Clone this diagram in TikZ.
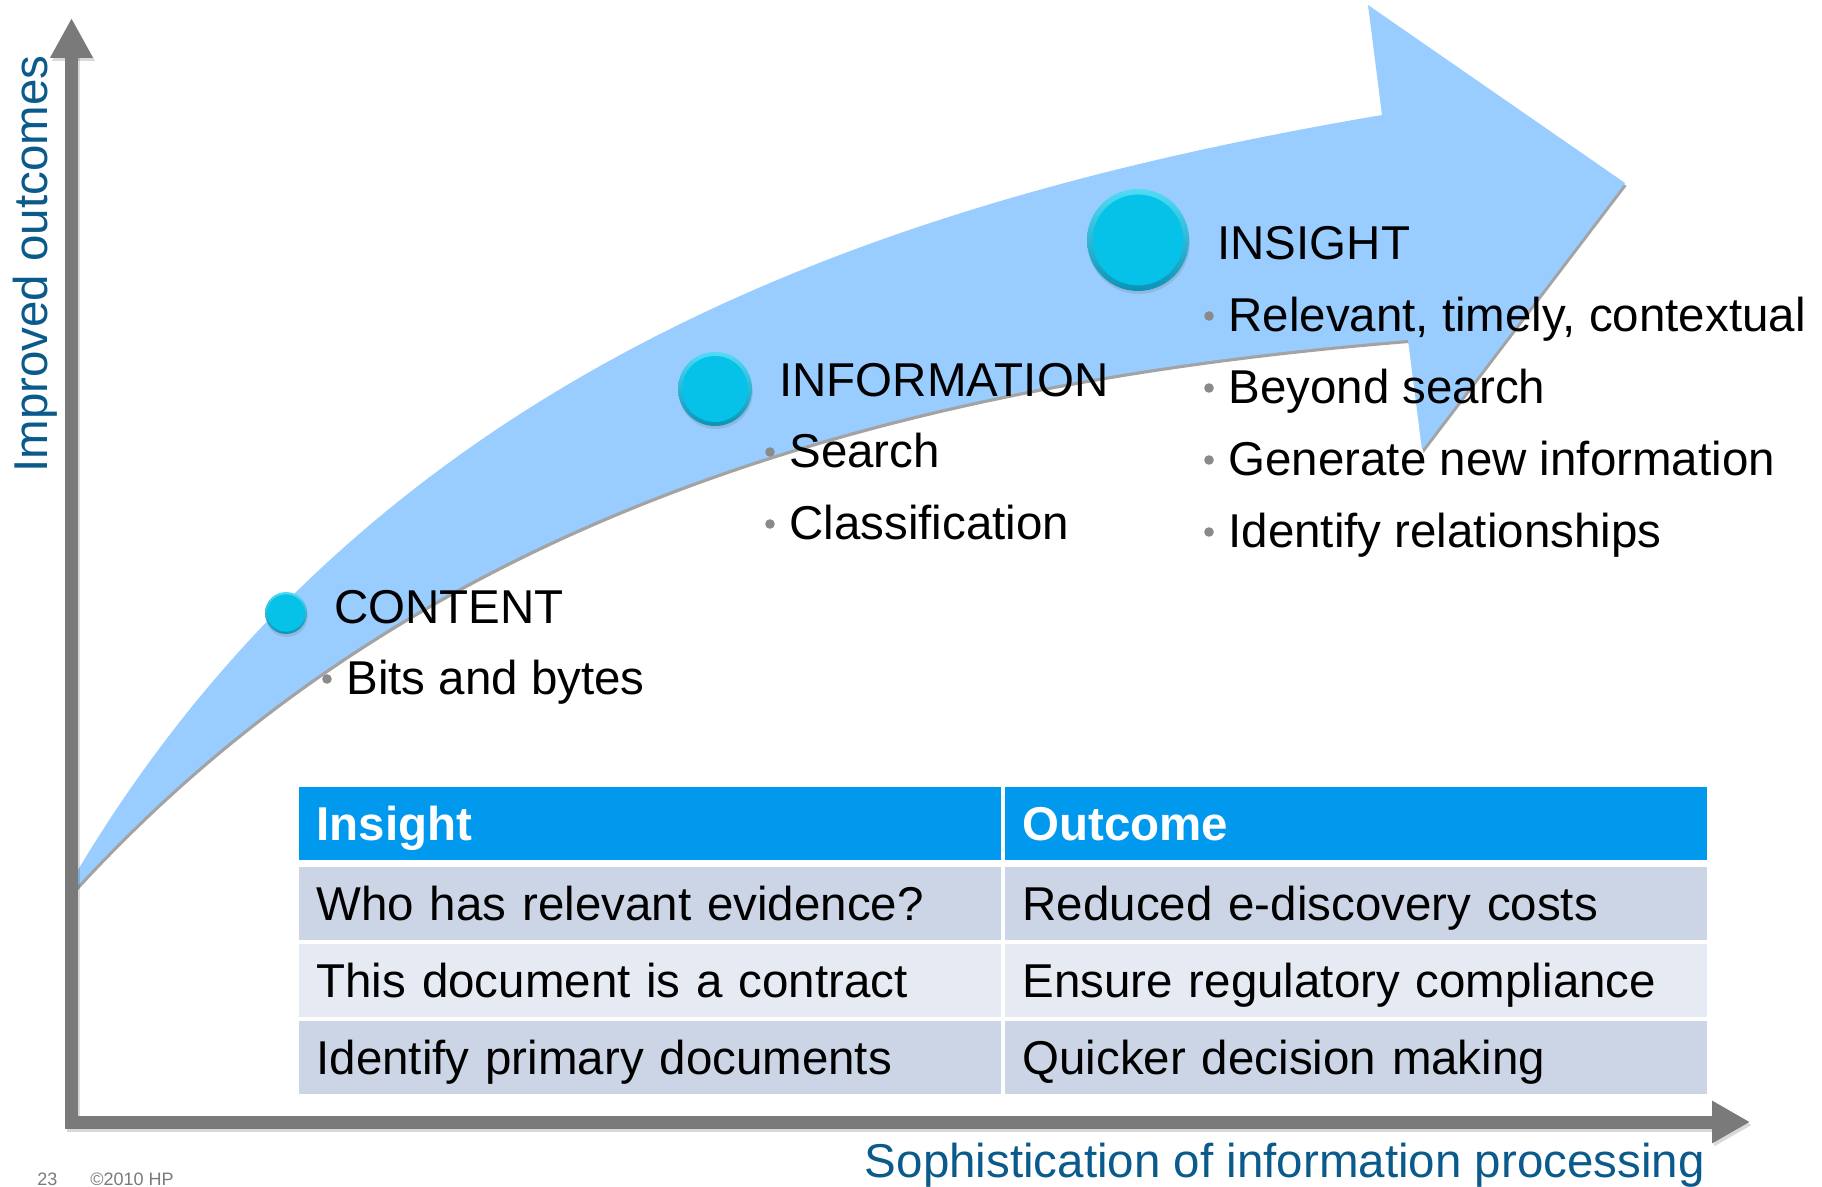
\documentclass[tikz,border=0pt]{standalone}
\usepackage{fontspec}
\setmainfont{Liberation Sans}
\usetikzlibrary{calc,arrows.meta,shadows}

\definecolor{gris}{HTML}{7A7A7A}
\definecolor{bleuciel}{HTML}{99CCFF}
\definecolor{ombre}{HTML}{A3A3A3}
\definecolor{bleutitre}{HTML}{0A5A8C}
\definecolor{bleuentete}{HTML}{0099EE}
\definecolor{lignefonce}{HTML}{CCD5E6}
\definecolor{ligneclair}{HTML}{E6EBF3}
\definecolor{puce}{HTML}{8A8A8A}
\definecolor{cyanmilieu}{HTML}{06C1E8}
\definecolor{cyanhaut}{HTML}{4FDCF6}
\definecolor{cyanbas}{HTML}{0B93B6}

\newcommand\grand{\fontsize{23.75pt}{28pt}\selectfont}

\begin{document}
\begin{tikzpicture}[
    x=0.5pt, y=-0.5pt, % une unité = un pixel, y vers le bas
    axe/.style={draw=gris, line width=6.5pt, line join=miter,
        {Triangle[length=20pt,width=20pt]}-{Triangle[length=19pt,width=20pt]}},
    bulle/.style={circle, inner sep=0pt, top color=cyanhaut, bottom color=cyanbas,
        drop shadow={shadow xshift=0.4pt, shadow yshift=-1.5pt, opacity=.25},
        path picture={\fill[cyanmilieu] let \p1=($(path picture bounding box.north east)-(path picture bounding box.center)$)
            in (path picture bounding box.center) circle[radius=0.89*\x1];}},
    titre/.style={anchor=base west, inner sep=0pt, font=\grand},
    texte/.style={anchor=base west, inner sep=0pt, font=\grand},
    cellule/.style={minimum height=36.5pt, text width=333pt, inner xsep=9pt, inner ysep=0pt,
        align=left, text height=17pt, text depth=0pt, font=\grand}
]
\useasboundingbox (0,0) rectangle (1822,1187);

% Flèche courbe (ombre puis flèche)
\foreach \couleur/\dx/\dy in {ombre/1.5/3, bleuciel/0/0}
    \fill[\couleur, shift={(\dx,\dy)}]
        (72,880) .. controls (372,370) and (882,200) .. (1382,115)
        -- (1368,5) -- (1625,183) -- (1422,450) -- (1408,340)
        .. controls (858,384) and (402,529) .. (72,892)
        -- cycle;

% Axes
\coordinate (haut) at (71.5,18);
\coordinate (droite) at (1750,1122);
\draw[axe, draw=black, opacity=.15, transform canvas={xshift=1pt, yshift=-1.5pt}] (haut) |- (droite);
\draw[axe] (haut) |- (droite);
\node[rotate=90, anchor=base west, inner sep=0pt, font=\grand, text=bleutitre] (ylab) at (47,473) {Improved outcomes};
\node[anchor=base east, inner sep=0pt, font=\grand, text=bleutitre] (xlab) at (1705,1177) {Sophistication of information processing};

% Étapes
\node[bulle, minimum size=21pt] (b1) at (286,613) {};
\node[bulle, minimum size=37pt] (b2) at (715,389) {};
\node[bulle, minimum size=51pt] (b3) at (1138,240) {};

\node[titre] (t1) at (334,624) {CONTENT};
\node[texte] (p1) at (346,695) {Bits and bytes};
\node[titre] (t2) at (779,397) {INFORMATION};
\node[texte] (p2) at (789,468) {Search};
\node[texte] (p3) at (789,540) {Classification};
\node[titre] (t3) at (1217,260) {INSIGHT};
\foreach \txt [count=\i] in {{Relevant, timely, contextual}, Beyond search,
        Generate new information, Identify relationships}
    \node[texte] (q\i) at (1228,{260+72*\i}) {\txt};

% Puces
\foreach \n in {p1,p2,p3,q1,q2,q3,q4}
    \fill[puce] ($(\n.base west)+(-19,-16)$) circle[radius=2.4pt];

% Tableau
\node[cellule, fill=bleuentete, text=white, font=\grand\bfseries] (g0) at (649.5,823.5) {Insight};
\node[cellule, fill=bleuentete, text=white, font=\grand\bfseries] (d0) at (1355.5,823.5) {Outcome};
\foreach \yc/\ga/\dr/\fc [count=\r] in {
        903.5/{Who has relevant evidence?}/{Reduced e-discovery costs}/lignefonce,
        980/{This document is a contract}/{Ensure regulatory compliance}/ligneclair,
        1057.5/{Identify primary documents}/{Quicker decision making}/lignefonce}
{
    \node[cellule, fill=\fc] (g\r) at (649.5,\yc) {\ga};
    \node[cellule, fill=\fc] (d\r) at (1355.5,\yc) {\dr};
}

% Pied de page
\node[anchor=base west, inner sep=0pt, font=\fontsize{9pt}{11pt}\selectfont, text=gris] (page) at (37,1185) {23};
\node[anchor=base west, inner sep=0pt, font=\fontsize{9pt}{11pt}\selectfont, text=gris] (copy) at (90,1185) {©2010 HP};
\end{tikzpicture}
\end{document}
